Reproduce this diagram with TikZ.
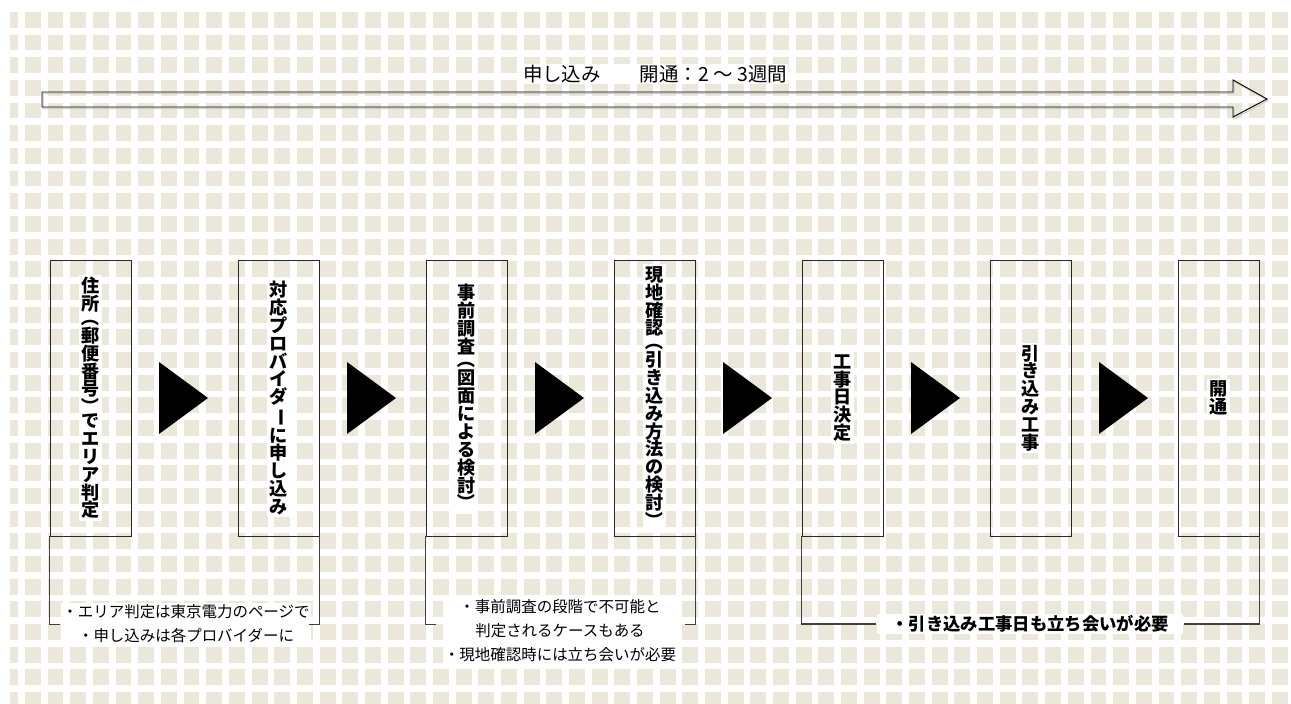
\documentclass[tikz,border=0pt]{standalone}
\usepackage{fontspec}
\setmainfont{Noto Sans CJK JP}
\usepackage{graphicx}
\usepackage{tikz}
\definecolor{tile}{RGB}{235,231,218}
\definecolor{edge}{RGB}{40,40,40}
% one glyph turned for vertical setting
\newcommand{\vglyph}[1]{\rotatebox[origin=c]{-90}{#1}}

\begin{document}
\begin{tikzpicture}[x=0.75pt,y=-0.75pt]
\tikzset{
  stp/.style={draw=edge,line width=0.6pt,minimum width=60.75pt,minimum height=207pt,inner sep=0pt},
  lbl/.style={fill=white,inner sep=1.5pt,align=center,font=\bfseries\fontsize{13.6}{13.4}\selectfont},
  nt/.style={fill=white,inner sep=1pt,align=center,font=\fontsize{11.6}{17.5}\selectfont},
  brk/.style={draw=black!75,line width=0.8pt}
}
\useasboundingbox (0,0) rectangle (1291,703);
\fill[white] (0,0) rectangle (1291,703);
% tiled background
\begin{scope}
\clip (10,12) rectangle (1291,703);
\foreach \i in {-1,...,55}
  \foreach \j in {0,...,30}
    \fill[tile] ({25+22.67*\i},{12+22.67*\j}) rectangle ++(15.8,15.8);
\end{scope}
% time span
\draw[black!20,line width=0.8pt] (43,93.5) -- (1234,93.5) -- (1234,81.5) -- (1268,100.5) -- (1234,118.5) -- (1234,108.5) -- (43,108.5) -- cycle;
\draw[black,line width=0.7pt] (42,92) -- (1233,92) -- (1233,80) -- (1267,99) -- (1233,117) -- (1233,107) -- (42,107) -- cycle;
\node[fill=white,inner sep=1pt,font=\fontsize{14.6}{16}\selectfont] (span) at (655,74) {申し込み　　開通：2 ～ 3週間};
% steps
\foreach \i/\t in {
  1/{住\\所\\[-3pt]\vglyph{（}\\郵\\便\\番\\号\\\vglyph{）}\\[-3pt]で\\エ\\リ\\ア\\判\\定},
  2/{対\\応\\プ\\ロ\\バ\\イ\\ダ\\\vglyph{ー}\\に\\申\\し\\込\\み},
  3/{事\\前\\調\\査\\[-3pt]\vglyph{（}\\図\\面\\に\\よ\\る\\検\\討\\\vglyph{）}},
  4/{現\\地\\確\\認\\[-3pt]\vglyph{（}\\引\\き\\込\\み\\方\\法\\の\\検\\討\\\vglyph{）}},
  5/{工\\事\\日\\決\\定},
  6/{引\\き\\込\\み\\工\\事},
  7/{開\\通}}{
  \node[stp] (b\i) at ({90.5+188*(\i-1)},398) {};
  \node[lbl] (l\i) at (b\i) {\t};
}
\foreach \i in {0,...,5}
  \fill ({159+188*\i},362) -- ++(49,36) -- ++(-49,36) -- cycle;
% notes under the steps
\node[nt] (n1) at (186,623.5) {・エリア判定は東京電力のページで\\・申し込みは各プロバイダーに};
\draw[brk] (b1.south west) -- ++(0,88) -- ++(10,0);
\draw[brk] (b2.south east) -- ++(0,88) -- ++(-10,0);
\node[nt,font=\fontsize{11.6}{18}\selectfont] (n2) at (560,631) {・事前調査の段階で不可能と\\判定されるケースもある\\・現地確認時には立ち会いが必要};
\draw[brk] (b3.south west) -- ++(0,88) -- ++(10,0);
\draw[brk] (b4.south east) -- ++(0,88) -- ++(-10,0);
\node[nt,inner xsep=11pt,font=\bfseries\fontsize{13}{15}\selectfont] (n3) at (1030,624) {・引き込み工事日も立ち会いが必要};
\draw[brk] (b5.south west) |- (n3.west);
\draw[brk] (b7.south east) |- (n3.east);
\end{tikzpicture}
\end{document}
